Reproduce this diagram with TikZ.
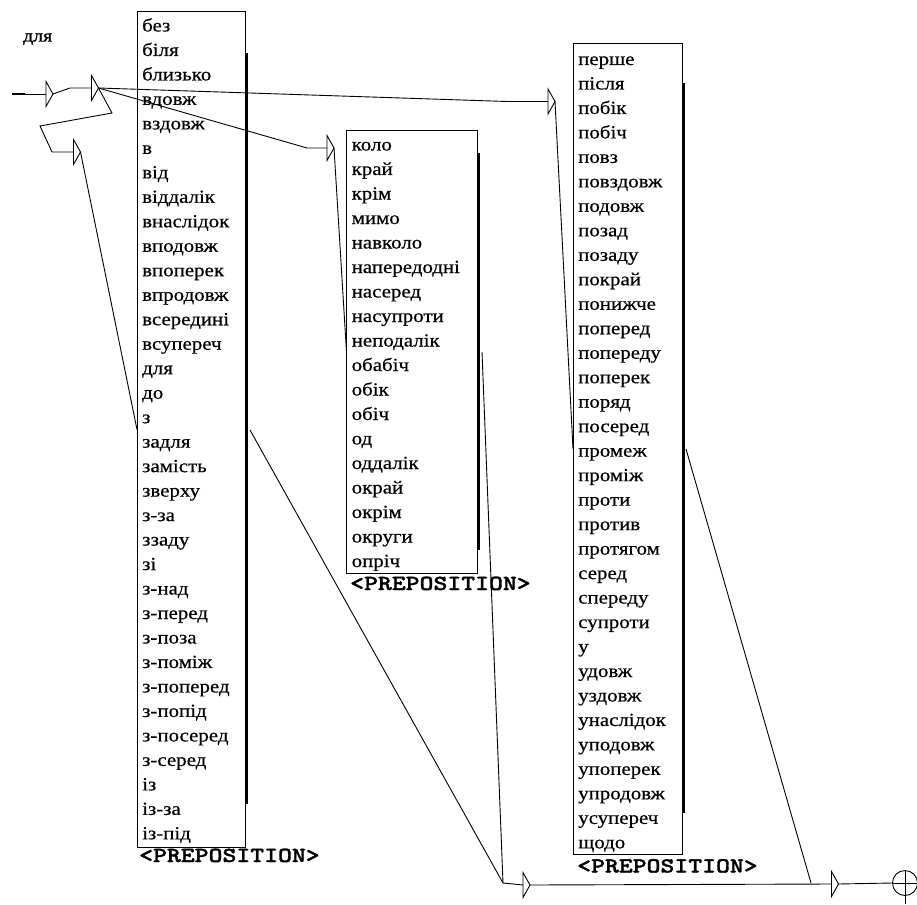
\documentclass[tikz,border=0pt]{standalone}
\usepackage{fontspec}
\setmainfont{Liberation Serif}[FakeStretch=1.13,FakeBold=0.5]
\newfontfamily\cmtfont{Liberation Serif}[FakeStretch=1.13,FakeBold=1.2]
\newfontfamily\monob{lmmonolt10-bold}[Extension=.otf,FakeStretch=1.23,FakeBold=1.5]
\begin{document}
\begin{tikzpicture}[x=1pt,y=-1pt,
  conn/.style={line width=0.9pt,black},
  boxst/.style={draw,line width=1pt,inner sep=0,outer sep=0,anchor=north west},
  shadow/.style={line width=2.6pt},
  word/.style={anchor=base west,inner sep=0,font=\fontsize{18.5}{20}\selectfont},
  plabel/.style={anchor=base west,inner sep=0,font=\fontsize{21.5}{24}\monob},
  etri/.style={minimum width=7pt,minimum height=25pt,inner sep=0,outer sep=0}]
\useasboundingbox (0,0) rectangle (917,904);

% comment
\node[anchor=base west,inner sep=0,font=\fontsize{17.5}{20}\cmtfont] (cmt) at (23,41.5) {для};

% boxes
\node[boxst,minimum width=108,minimum height=835] (b1) at (137,12) {};
\node[boxst,minimum width=131,minimum height=442] (b2) at (346.5,131) {};
\node[boxst,minimum width=109,minimum height=810] (b3) at (573,44) {};
\draw[shadow] ([xshift=1.5pt,yshift=-41pt]b1.north east) -- ([xshift=1.5pt,yshift=43pt]b1.south east);
\draw[shadow] ([xshift=1.5pt,yshift=-22pt]b2.north east) -- ([xshift=1.5pt,yshift=23pt]b2.south east);
\draw[shadow] ([xshift=1.5pt,yshift=-39pt]b3.north east) -- ([xshift=1.5pt,yshift=41pt]b3.south east);

\foreach \w [count=\i] in {без,біля,близько,вдовж,вздовж,в,від,віддалік,внаслідок,вподовж,впоперек,впродовж,всередині,всупереч,для,до,з,задля,замість,зверху,з-за,ззаду,зі,з-над,з-перед,з-поза,з-поміж,з-поперед,з-попід,з-посеред,з-серед,із,із-за,із-під}
  \node[word] (b1w\i) at (142,{31.5+24.48*(\i-1)}) {\w};
\foreach \w [count=\i] in {коло,край,крім,мимо,навколо,напередодні,насеред,насупроти,неподалік,обабіч,обік,обіч,од,оддалік,окрай,окрім,округи,опріч}
  \node[word] (b2w\i) at (351.5,{150.5+24.5*(\i-1)}) {\w};
\foreach \w [count=\i] in {перше,після,побік,побіч,повз,повздовж,подовж,позад,позаду,покрай,понижче,поперед,попереду,поперек,поряд,посеред,промеж,проміж,проти,против,протягом,серед,спереду,супроти,у,удовж,уздовж,унаслідок,уподовж,упоперек,упродовж,усупереч,щодо}
  \node[word] (b3w\i) at (578,{65+24.48*(\i-1)}) {\w};

\node[plabel] (p1) at (139,862) {<PREPOSITION>};
\node[plabel] (p2) at (350,590) {<PREPOSITION>};
\node[plabel] (p3) at (577,872.5) {<PREPOSITION>};

% epsilon boxes (triangles)
\node[etri] (e1) at (49.5,94) {};
\node[etri] (e2) at (95,88) {};
\node[etri] (e3) at (551.5,101.5) {};
\node[etri] (e4) at (330.5,148) {};
\node[etri] (e5) at (77,152) {};
\node[etri] (e6) at (526.5,885) {};
\node[etri] (e7) at (835,884) {};
\foreach \n in {e1,e2,e3,e4,e5,e6,e7}
  \draw[conn,line join=miter] (\n.north west) -- (\n.east) -- (\n.south west) -- cycle;

% initial and final states
\coordinate (s0) at (12,94);
\coordinate (s1) at (25,94);
\draw[line width=2.6pt] (s0) -- (s1);
\node[draw,circle,line width=0.9pt,minimum size=25pt,inner sep=0] (fin) at (905,883) {};
\draw[conn] (fin.west) -- (fin.east) (fin.north) -- (905,904);

% join points
\coordinate (j1) at (503,883);
\coordinate (j2) at (811,883);

% connectors
\draw[conn] (s1) -- (e1.west);
\draw[conn] (e1.east) -- (70,88) -- (e2.west);
\draw[conn] (e2.east) -- (507,101.5) -- (e3.west);
\draw[conn] (e2.east) -- (307,148) -- (e4.west);
\draw[conn] (e2.east) -- (112,113) -- (40,126) -- (52,152) -- (e5.west);
\draw[conn] (e5.east) -- (b1.west);
\draw[conn] (e4.east) -- (b2.west);
\draw[conn] (e3.east) -- (b3.west);
\draw[conn] (250,430) -- (j1);
\draw[conn] (482,352) -- (j1);
\draw[conn] (j1) -- (e6.west);
\draw[conn] (e6.east) -- (e7.west);
\draw[conn] (686,449) -- (j2);
\draw[conn] (e7.east) -- (fin.west);
\end{tikzpicture}
\end{document}
